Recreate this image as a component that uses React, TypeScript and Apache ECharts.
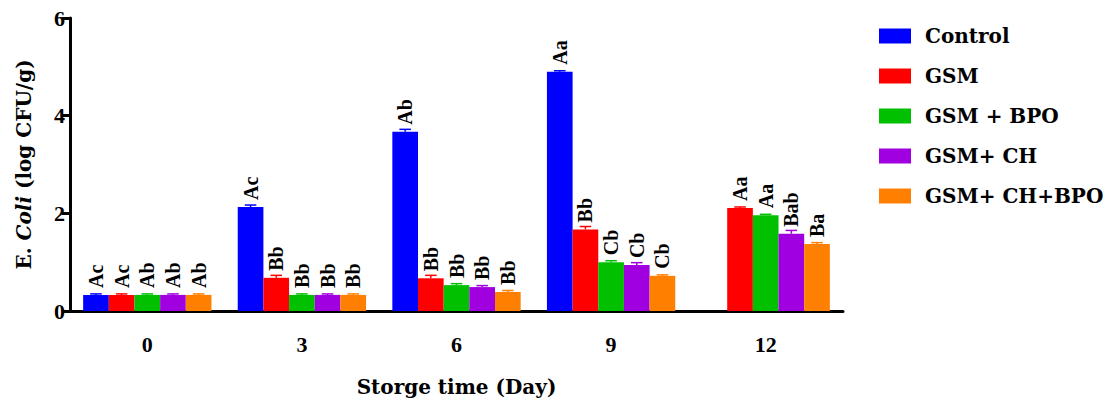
import React, { useEffect, useRef } from "react";
import * as echarts from "echarts";

const days = ["0", "3", "6", "9", "12"];
const seriesNames = ["Control", "GSM", "GSM + BPO", "GSM+ CH", "GSM+ CH+BPO"];
const colors = ["#0000FF", "#FF0000", "#00C000", "#A000E0", "#FF8000"];

const controlVals = [0.33, 2.13, 3.67, 4.9, null];
const gsmVals = [0.33, 0.68, 0.67, 1.67, 2.11];
const gsmBpoVals = [0.33, 0.33, 0.53, 1.0, 1.96];
const gsmChVals = [0.33, 0.33, 0.49, 0.94, 1.58];
const gsmChBpoVals = [0.33, 0.33, 0.39, 0.72, 1.37];

const controlErr = [0.02, 0.04, 0.05, 0.02, null];
const gsmErr = [0.02, 0.05, 0.06, 0.06, 0.02];
const gsmBpoErr = [0.02, 0.02, 0.03, 0.03, 0.02];
const gsmChErr = [0.02, 0.02, 0.03, 0.05, 0.07];
const gsmChBpoErr = [0.02, 0.02, 0.03, 0.02, 0.03];

const controlLetters = ["Ac", "Ac", "Ab", "Aa", ""];
const gsmLetters = ["Ac", "Bb", "Bb", "Bb", "Aa"];
const gsmBpoLetters = ["Ab", "Bb", "Bb", "Cb", "Aa"];
const gsmChLetters = ["Ab", "Bb", "Bb", "Cb", "Bab"];
const gsmChBpoLetters = ["Ab", "Bb", "Bb", "Cb", "Ba"];

const allVals = [controlVals, gsmVals, gsmBpoVals, gsmChVals, gsmChBpoVals];
const allErr = [controlErr, gsmErr, gsmBpoErr, gsmChErr, gsmChBpoErr];
const allLetters = [controlLetters, gsmLetters, gsmBpoLetters, gsmChLetters, gsmChBpoLetters];

const CAT_GAP = 0.17;
const N = 5;

export default function App() {
  const ref = useRef<HTMLDivElement>(null);
  useEffect(() => {
    if (!ref.current) return;
    const chart = echarts.init(ref.current, null, { renderer: "svg" });
    const serif = "'Liberation Serif', 'Times New Roman', serif";
    const wide = "'DejaVu Serif', serif";

    const barSeries: any[] = seriesNames.map((name, i) => ({
      name,
      type: "bar",
      data: allVals[i].map((v) => (v === null ? "-" : v)),
      itemStyle: { color: colors[i] },
      barGap: "0%",
      barCategoryGap: CAT_GAP * 100 + "%",
      label: {
        show: true,
        position: "top",
        rotate: 90,
        align: "left",
        verticalAlign: "middle",
        distance: 7,
        formatter: (p: any) => allLetters[i][p.dataIndex] || "",
        fontFamily: serif,
        fontWeight: "bold",
        fontSize: 20,
        color: "#000",
      },
    }));

    const errSeries: any[] = seriesNames.map((name, i) => ({
      type: "custom",
      name,
      coordinateSystem: "cartesian2d",
      silent: true,
      z: 3,
      encode: { x: 0, y: 1 },
      data: allVals[i]
        .map((v, k) => (v === null ? null : [k, v, allErr[i][k]]))
        .filter((d) => d !== null),
      renderItem: (params: any, api: any) => {
        const k = api.value(0);
        const v = api.value(1);
        const e = api.value(2);
        const catW = api.size([1, 0])[0];
        const groupW = catW * (1 - CAT_GAP);
        const bw = groupW / N;
        const base = api.coord([k, v]);
        const top = api.coord([k, v + e]);
        const x = base[0] - groupW / 2 + bw * (i + 0.5);
        const cap = bw * 0.45;
        return {
          type: "group",
          children: [
            {
              type: "line",
              shape: { x1: x, y1: base[1], x2: x, y2: top[1] },
              style: { stroke: colors[i], lineWidth: 1.5 },
            },
            {
              type: "line",
              shape: { x1: x - cap / 2, y1: top[1], x2: x + cap / 2, y2: top[1] },
              style: { stroke: colors[i], lineWidth: 1.5 },
            },
          ],
        };
      },
    }));

    chart.setOption({
      animation: false,
      backgroundColor: "#fff",
      grid: { left: 70, right: 269, top: 18, bottom: 95, containLabel: false },
      legend: {
        orient: "vertical",
        left: 874,
        top: 21,
        itemWidth: 32,
        itemHeight: 15,
        itemGap: 20,
        icon: "rect",
        data: seriesNames,
        textStyle: {
          fontFamily: wide,
          fontWeight: "bold",
          fontSize: 20,
          color: "#000",
          padding: [0, 0, 0, 9],
        },
      },
      xAxis: {
        type: "category",
        data: days,
        name: "Storge time (Day)",
        nameLocation: "middle",
        nameGap: 66,
        nameTextStyle: { fontFamily: wide, fontWeight: "bold", fontSize: 20, color: "#000" },
        axisLine: { lineStyle: { color: "#000", width: 3 } },
        axisTick: { alignWithLabel: true, length: 12, lineStyle: { color: "#000", width: 3 } },
        axisLabel: { fontFamily: serif, fontWeight: "bold", fontSize: 22, color: "#000", margin: 22 },
      },
      yAxis: {
        type: "value",
        min: 0,
        max: 6,
        interval: 2,
        name: "E. {i|Coli} (log CFU/g)",
        nameLocation: "middle",
        nameRotate: 90,
        nameGap: 36,
        nameTextStyle: {
          fontFamily: wide,
          fontWeight: "bold",
          fontSize: 20,
          color: "#000",
          rich: {
            i: { fontFamily: wide, fontWeight: "bold", fontStyle: "italic", fontSize: 20, color: "#000" },
          },
        },
        splitLine: { show: false },
        axisLine: { show: true, lineStyle: { color: "#000", width: 3 } },
        axisTick: { show: true, length: 8, lineStyle: { color: "#000", width: 3 } },
        axisLabel: { fontFamily: serif, fontWeight: "bold", fontSize: 22, color: "#000", margin: 5 },
      },
      series: [...barSeries, ...errSeries],
    });
    return () => chart.dispose();
  }, []);
  return (
    <div
      ref={ref}
      style={{ position: "absolute", left: 0, top: 0, width: 1112, height: 406 }}
    />
  );
}
